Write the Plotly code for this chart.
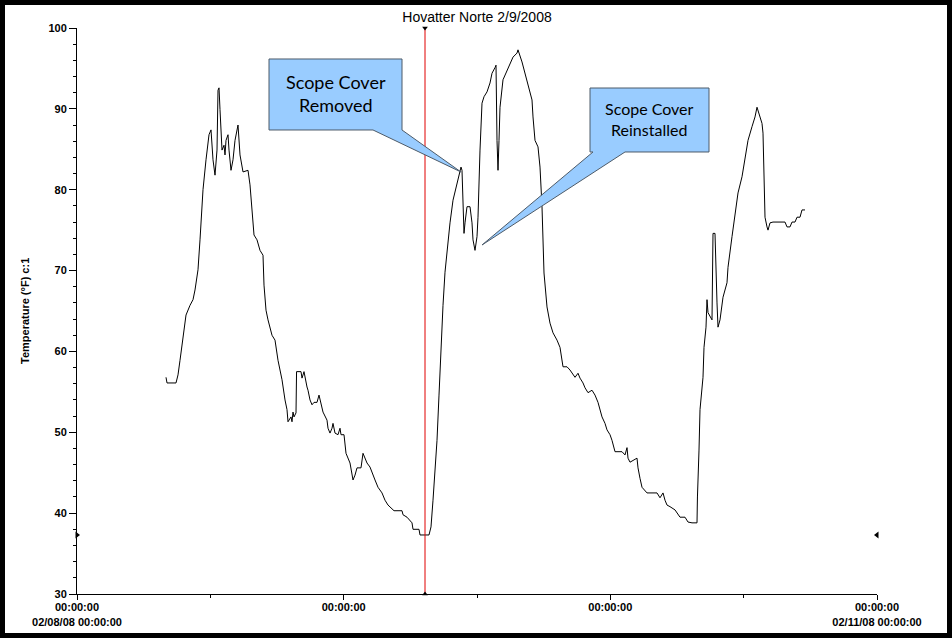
import datetime as dt
import plotly.graph_objects as go

# ---------------- data (hours after 2008-02-08 00:00, temperature °F) ----------------
hours = [
    8.01, 8.10, 8.91, 9.09, 9.27, 9.54, 9.81, 10.17, 10.44, 10.62, 10.89, 11.07, 11.34, 11.61,
    11.88, 12.06, 12.24, 12.42, 12.60, 12.69, 12.78, 12.87, 13.05, 13.23, 13.32, 13.41, 13.59,
    13.68, 13.86, 14.04, 14.22, 14.49, 14.58, 14.67, 14.94, 15.39, 15.57, 15.66, 15.93, 16.20,
    16.47, 16.74, 16.83, 17.01, 17.19, 17.55, 17.82, 18.09, 18.45, 18.72, 18.90, 18.99, 19.26,
    19.35, 19.44, 19.53, 19.71, 19.76, 20.16, 20.25, 20.43, 20.70, 20.79, 20.97, 21.15, 21.33,
    21.60, 21.78, 21.96, 22.14, 22.50, 22.59, 22.77, 22.95, 23.04, 23.22, 23.49, 23.67, 23.76,
    24.03, 24.21, 24.39, 24.57, 24.84, 25.02, 25.20, 25.56, 25.74, 25.92, 26.10, 26.37, 26.55,
    26.82, 27.09, 27.45, 27.72, 27.99, 28.53, 29.25, 29.34, 29.70, 30.15, 30.24, 30.78, 30.87,
    31.68, 31.86, 32.04, 32.22, 32.40, 32.58, 32.76, 32.94, 33.12, 33.30, 33.57, 33.84, 34.20,
    34.47, 34.56, 34.65, 34.74, 34.83, 34.92, 35.10, 35.37, 35.55, 35.64, 35.82, 36.00, 36.09,
    36.27, 36.45, 36.63, 36.90, 37.17, 37.35, 37.62, 37.71, 37.80, 37.89, 37.98, 38.07, 38.34,
    38.70, 38.97, 39.24, 39.60, 39.69, 40.05, 40.32, 40.59, 40.95, 41.04, 41.22, 41.49, 41.67,
    41.85, 41.94, 42.03, 42.30, 42.57, 42.84, 43.20, 43.47, 43.74, 44.10, 44.37, 44.82, 45.09,
    45.27, 45.54, 45.72, 45.99, 46.35, 46.62, 46.89, 47.07, 47.25, 47.52, 47.70, 47.97, 48.15,
    48.42, 49.05, 49.32, 49.50, 49.59, 49.77, 50.40, 50.49, 50.67, 50.85, 51.30, 52.20, 52.47,
    52.74, 52.92, 53.10, 53.37, 53.82, 54.27, 54.72, 54.99, 55.35, 55.80, 55.84, 55.98, 56.07,
    56.34, 56.43, 56.61, 56.70, 56.79, 57.15, 57.24, 57.42, 57.60, 57.69, 57.87, 58.05, 58.14,
    58.50, 58.59, 58.95, 59.22, 59.49, 59.85, 60.12, 60.39, 60.75, 61.02, 61.20, 61.38, 61.65,
    61.74, 61.83, 61.92, 62.10, 62.19, 62.37, 62.64, 63.72, 63.90, 64.17, 64.35, 64.62, 64.80,
    65.07, 65.25, 65.52,
]
temps = [
    56.8, 56.1, 56.1, 57.1, 58.9, 61.4, 64.5, 65.7, 66.4, 67.6, 70.1, 73.8, 80.0, 83.7,
    86.8, 87.4, 83.7, 81.8, 84.9, 92.3, 92.6, 89.9, 84.9, 85.5, 84.3, 86.1, 86.8,
    84.9, 82.4, 83.7, 86.1, 88.0, 86.1, 84.3, 82.2, 82.4, 80.6, 78.7, 74.4, 73.8,
    72.5, 71.9, 68.2, 65.1, 63.9, 62.0, 61.4, 58.9, 56.5, 54.0, 52.8, 51.3, 51.9,
    51.3, 52.5, 51.9, 52.4, 57.5, 57.5, 56.7, 57.5, 55.6, 55.2, 54.0, 53.4, 53.7,
    53.7, 54.6, 53.6, 52.5, 51.5, 50.5, 49.9, 50.5, 51.1, 49.9, 49.7, 50.5, 49.7,
    49.7, 47.4, 46.8, 46.2, 44.1, 44.7, 45.6, 45.6, 47.4, 46.9, 46.2, 45.7, 45.0,
    44.1, 43.2, 42.5, 41.6, 41.0, 40.3, 40.3, 39.8, 39.5, 38.8, 38.0, 38.0, 37.3,
    37.3, 38.3, 41.6, 45.3, 49.0, 54.6, 61.4, 65.7, 69.8, 72.5, 75.9, 78.7, 80.8,
    82.1, 82.8, 82.4, 76.6, 74.6, 75.9, 77.9, 77.9, 75.9, 73.8, 72.5, 74.2, 76.6,
    84.9, 90.7, 91.5, 92.1, 93.2, 94.4, 95.1, 95.4, 86.1, 82.4, 86.1, 90.2, 93.6,
    94.8, 95.7, 96.4, 96.9, 97.3, 95.8, 94.4, 93.2, 91.1, 89.0, 86.1, 85.3, 82.8,
    77.9, 73.8, 69.7, 65.5, 63.5, 62.3, 61.4, 60.5, 58.1, 58.1, 57.7, 56.8, 57.3,
    56.7, 56.1, 55.5, 54.9, 55.2, 54.6, 53.7, 52.8, 51.9, 51.1, 50.3, 49.7, 49.0,
    47.6, 47.6, 47.2, 48.1, 46.8, 46.3, 46.8, 45.6, 44.3, 43.2, 42.5, 42.5, 41.9,
    42.5, 41.6, 41.0, 40.8, 40.4, 39.5, 39.5, 38.9, 38.8, 38.8, 42.0, 47.8, 52.8,
    56.8, 60.5, 63.0, 66.4, 64.8, 63.9, 74.6, 74.6, 66.0, 63.0, 63.9, 66.0, 66.7,
    68.5, 70.4, 74.2, 77.1, 79.6, 81.6, 83.7, 86.1, 87.8, 89.0, 90.2, 89.5, 88.2,
    87.0, 80.3, 76.6, 75.4, 75.0, 75.9, 76.0, 76.0, 75.4, 75.4, 76.0, 76.0, 76.6,
    76.6, 77.5, 77.5,
]

cursor_hour = 31.32          # cursor line position
cursor_value = 37.3          # value read at cursor

tick_dates = ["2008-02-08", "2008-02-09", "2008-02-10", "2008-02-11"]
tick_line1 = ["00:00:00", "00:00:00", "00:00:00", "00:00:00"]
tick_line2 = ["02/08/08 00:00:00", "", "", "02/11/08 00:00:00"]
y_ticks = [30, 40, 50, 60, 70, 80, 90, 100]

base = dt.datetime(2008, 2, 8)
times = [base + dt.timedelta(hours=h) for h in hours]
cursor_time = base + dt.timedelta(hours=cursor_hour)
x_start = base
x_end = base + dt.timedelta(days=3)

fig = go.Figure()
fig.add_trace(go.Scatter(x=times, y=temps, mode="lines",
                         line=dict(color="black", width=1), showlegend=False))

# cursor line
fig.add_trace(go.Scatter(x=[cursor_time, cursor_time], y=[30, 100], mode="lines",
                         line=dict(color="#e00000", width=1), showlegend=False))
fig.add_trace(go.Scatter(x=[cursor_time, cursor_time], y=[100, 30], mode="markers",
                         marker=dict(symbol=["triangle-down", "triangle-up"], size=5,
                                     color="black"),
                         cliponaxis=False, showlegend=False))
fig.add_trace(go.Scatter(x=[x_start, x_end], y=[cursor_value, cursor_value], mode="markers",
                         marker=dict(symbol=["triangle-right", "triangle-left"], size=6,
                                     color="black"),
                         cliponaxis=False, showlegend=False))

L, R, T, B = 77, 75, 28, 44
W, H = 952, 638
pw, ph = W - L - R, H - T - B


def px(xp):
    return (xp - L) / pw


def py(yp):
    return (H - B - yp) / ph


def poly(pts):
    return "M " + " L ".join(f"{px(a):.5f},{py(b):.5f}" for a, b in pts) + " Z"


callout_fill = "#99ccff"
callout_line = "#4d5b69"
shapes = [
    dict(type="path", xref="paper", yref="paper",
         path=poly([(269, 59), (402, 59), (402, 130), (461, 172), (373, 130), (269, 130)]),
         fillcolor=callout_fill, line=dict(color=callout_line, width=1)),
    dict(type="path", xref="paper", yref="paper",
         path=poly([(590, 88), (709, 88), (709, 152), (625, 152), (482, 245), (593, 152),
                    (590, 152)]),
         fillcolor=callout_fill, line=dict(color=callout_line, width=1)),
    # outer black frame
    dict(type="rect", xref="paper", yref="paper",
         x0=px(0), x1=px(W), y0=py(H), y1=py(0),
         line=dict(color="black", width=10), fillcolor="rgba(0,0,0,0)"),
]

annotations = [
    dict(text="Scope Cover<br>Removed", xref="paper", yref="paper",
         x=px(335.5), y=py(93), xanchor="center", yanchor="middle", showarrow=False,
         font=dict(family="Lato, Noto Sans, sans-serif", size=18, color="black"),
         align="center"),
    dict(text="Scope Cover<br>Reinstalled", xref="paper", yref="paper",
         x=px(649.5), y=py(119), xanchor="center", yanchor="middle", showarrow=False,
         font=dict(family="Lato, Noto Sans, sans-serif", size=16, color="black"),
         align="center"),
    dict(text="<b>Temperature (°F) c:1</b>", xref="paper", yref="paper",
         x=px(25), y=py(311), xanchor="center", yanchor="middle", textangle=-90,
         showarrow=False,
         font=dict(family="Liberation Sans, Arial, sans-serif", size=11, color="black")),
]

fig.update_layout(
    width=W, height=H,
    margin=dict(l=L, r=R, t=T, b=B, autoexpand=False),
    paper_bgcolor="white", plot_bgcolor="white",
    title=dict(text="Hovatter Norte 2/9/2008", x=px(477), xref="paper",
               y=1 - 17 / H, yref="container", xanchor="center", yanchor="middle",
               font=dict(family="Liberation Sans, Arial, sans-serif", size=14, color="black")),
    shapes=shapes,
    annotations=annotations,
    showlegend=False,
)

tick_font = dict(family="Liberation Sans, Arial, sans-serif", size=11, color="black")
x_ticktext = [f"<b>{a}</b>" + (f"<br><b>{b}</b>" if b else "")
              for a, b in zip(tick_line1, tick_line2)]
fig.update_xaxes(
    range=[x_start, x_end], type="date", automargin=False,
    tickmode="array", tickvals=tick_dates, ticktext=x_ticktext,
    ticks="outside", ticklen=5, tickcolor="black", tickwidth=1,
    ticklabelstandoff=-2,
    showline=True, linecolor="black", linewidth=1,
    showgrid=False, zeroline=False, tickfont=tick_font,
    minor=dict(dtick=12 * 3600 * 1000, tick0="2008-02-08", ticks="outside", ticklen=3,
               tickcolor="black", showgrid=False),
)
fig.update_yaxes(
    range=[30, 100], tickmode="array", tickvals=y_ticks, automargin=False,
    ticktext=[f"<b>{v}</b>" for v in y_ticks],
    ticks="outside", ticklen=7, tickcolor="black", tickwidth=1,
    showline=True, linecolor="black", linewidth=1,
    showgrid=False, zeroline=False, tickfont=tick_font,
    minor=dict(dtick=2, tick0=30, ticks="outside", ticklen=3, tickcolor="black",
               showgrid=False),
)

fig.write_html("out.html",
               config={"displayModeBar": False},
               post_script="document.body.style.margin='0px';"
                           "document.body.style.overflow='hidden';")
